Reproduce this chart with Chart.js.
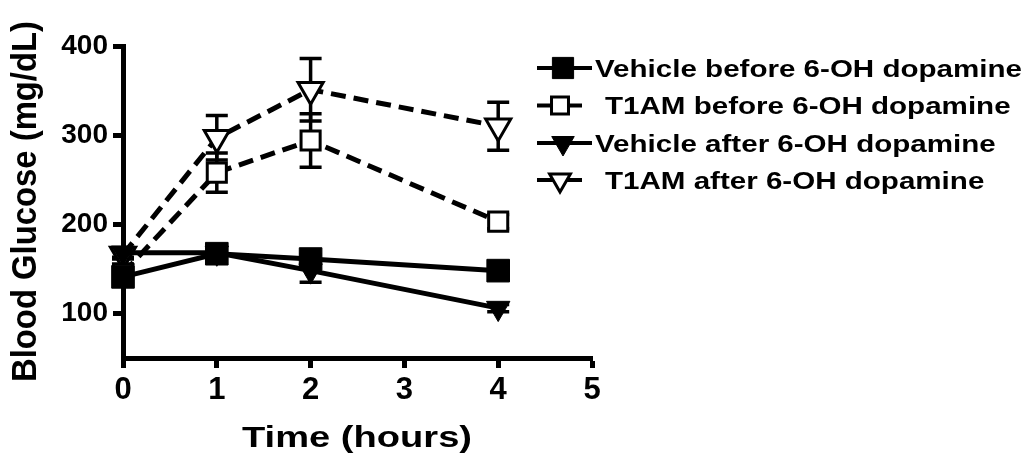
<!DOCTYPE html>
<html lang="en">
<head>
    <meta charset="UTF-8">
    <title>Blood Glucose</title>
    <style>
        body { margin: 0; background: #fff; }
        .chart-box { width: 1031px; height: 459px; position: relative; }
    </style>
</head>
<body>
    <div class="chart-box"><canvas id="glucoseChart"></canvas></div>

    <script src="https://cdn.jsdelivr.net/npm/chart.js"></script>
    <script>
        const timeHours = [0, 1, 2, 4];
        const yTicks = [100, 200, 300, 400];
        const seriesNames = ['Vehicle before 6-OH dopamine', 'T1AM before 6-OH dopamine', 'Vehicle after 6-OH dopamine', 'T1AM after 6-OH dopamine'];
        const vehicleBefore = [141, 167, 161, 148];
        const vehicleBeforeErr = [7, 6, 5, 5];
        const t1amBefore = [145, 258, 294, 203];
        const t1amBeforeErr = [6, 22, 30, 8];
        const vehicleAfter = [168, 168, 148, 106];
        const vehicleAfterErr = [5, 5, 13, 4];
        const t1amAfter = [166, 297, 351, 310];
        const t1amAfterErr = [5, 25, 35, 27];

        const FONT = "'Liberation Sans', Arial, sans-serif";

        const toPoints = vals => vals.map((v, i) => ({ x: timeHours[i], y: v }));

        // marker + line style per series (also used for legend)
        const styles = [
            { pointStyle: 'rect', radius: 16, rotation: 0, fill: '#000', dash: [], legendRadius: 15, lineEnd: 592, markX: 563 },
            { pointStyle: 'rect', radius: 13.5, rotation: 0, fill: '#fff', dash: [15, 8], legendRadius: 12, lineEnd: 582, markX: 560 },
            { pointStyle: 'triangle', radius: 13.5, rotation: 180, fill: '#000', dash: [], legendRadius: 13, lineEnd: 592, markX: 563 },
            { pointStyle: 'triangle', radius: 14.5, rotation: 180, fill: '#fff', dash: [15, 8], legendRadius: 12, lineEnd: 582, markX: 560 }
        ];
        const values = [vehicleBefore, t1amBefore, vehicleAfter, t1amAfter];
        const errors = [vehicleBeforeErr, t1amBeforeErr, vehicleAfterErr, t1amAfterErr];

        const datasets = values.map((vals, i) => ({
            label: seriesNames[i],
            data: toPoints(vals),
            errors: errors[i],
            borderColor: '#000',
            borderWidth: 5,
            borderDash: styles[i].dash,
            pointStyle: styles[i].pointStyle,
            pointRadius: styles[i].radius,
            pointRotation: styles[i].rotation,
            pointBackgroundColor: styles[i].fill,
            pointBorderColor: '#000',
            pointBorderWidth: styles[i].fill === '#fff' ? 3 : 1,
            pointHoverRadius: styles[i].radius,
            clip: false,
            tension: 0
        }));

        // error bars, drawn under the markers
        const errorBars = {
            id: 'errorBars',
            beforeDatasetsDraw(chart) {
                const { ctx, scales: { x, y } } = chart;
                ctx.save();
                ctx.strokeStyle = '#000';
                ctx.lineWidth = 3.5;
                ctx.setLineDash([]);
                chart.data.datasets.forEach(ds => {
                    ds.data.forEach((p, i) => {
                        const e = ds.errors[i];
                        const px = x.getPixelForValue(p.x);
                        const top = y.getPixelForValue(p.y + e);
                        const bot = y.getPixelForValue(p.y - e);
                        ctx.beginPath();
                        ctx.moveTo(px, top); ctx.lineTo(px, bot);
                        ctx.moveTo(px - 11, top); ctx.lineTo(px + 11, top);
                        ctx.moveTo(px - 11, bot); ctx.lineTo(px + 11, bot);
                        ctx.stroke();
                    });
                });
                ctx.restore();
            }
        };

        // fill text stretched to a target width
        const stretchedText = (ctx, text, x, y, width, thick) => {
            const w = ctx.measureText(text).width;
            ctx.save();
            ctx.translate(x, y);
            ctx.scale(width / w, thick);
            ctx.fillText(text, 0, 0);
            ctx.restore();
        };

        const legendAndTitles = {
            id: 'legendAndTitles',
            afterDraw(chart) {
                const ctx = chart.ctx;
                ctx.save();
                ctx.fillStyle = '#000';
                ctx.strokeStyle = '#000';

                // legend
                const rows = [68, 105.5, 143, 180];
                ctx.font = `bold 23px ${FONT}`;
                const stretch = 427 / ctx.measureText(seriesNames[0]).width;
                seriesNames.forEach((name, i) => {
                    const s = styles[i];
                    const yRow = rows[i];
                    ctx.lineWidth = 4;
                    ctx.setLineDash([]);
                    ctx.beginPath();
                    ctx.moveTo(537, yRow); ctx.lineTo(s.lineEnd, yRow);
                    ctx.stroke();
                    ctx.fillStyle = s.fill;
                    ctx.lineWidth = s.fill === '#fff' ? 3 : 1;
                    Chart.helpers.drawPoint(ctx, { pointStyle: s.pointStyle, radius: s.legendRadius, rotation: s.rotation, borderWidth: ctx.lineWidth }, s.markX, yRow);
                    ctx.fillStyle = '#000';
                    ctx.textAlign = 'left';
                    ctx.textBaseline = 'alphabetic';
                    const tx = s.fill === '#fff' ? 605 : 595;
                    ctx.save();
                    ctx.translate(tx, yRow + 8.5);
                    ctx.scale(stretch, 1);
                    ctx.fillText(name, 0, 0);
                    ctx.restore();
                });

                // x title
                ctx.font = `bold 30px ${FONT}`;
                ctx.textAlign = 'center';
                ctx.textBaseline = 'alphabetic';
                stretchedText(ctx, 'Time (hours)', 357, 447, 230, 1);

                // y title
                ctx.font = `bold 32px ${FONT}`;
                ctx.save();
                ctx.translate(36, 201.5);
                ctx.rotate(-Math.PI / 2);
                const w = ctx.measureText('Blood Glucose (mg/dL)').width;
                ctx.scale(361 / w, 1.12);
                ctx.fillText('Blood Glucose (mg/dL)', 0, 0);
                ctx.restore();

                ctx.restore();
            }
        };

        new Chart(document.getElementById('glucoseChart'), {
            type: 'line',
            data: { datasets },
            plugins: [errorBars, legendAndTitles],
            options: {
                responsive: true,
                maintainAspectRatio: false,
                animation: false,
                layout: { padding: { top: 46, right: 439, left: 0, bottom: 0 } },
                plugins: { legend: { display: false }, tooltip: { enabled: false } },
                scales: {
                    x: {
                        type: 'linear',
                        min: 0, max: 5,
                        ticks: { stepSize: 1, color: '#000', padding: 4, font: { family: FONT, size: 31, weight: 'bold' } },
                        grid: { drawOnChartArea: false, drawTicks: true, tickLength: 10, tickWidth: 5, tickColor: '#000' },
                        border: { display: true, color: '#000', width: 5 },
                        afterFit: s => { s.height = 101; }
                    },
                    y: {
                        type: 'linear',
                        min: 50, max: 400,
                        afterBuildTicks: s => { s.ticks = yTicks.map(v => ({ value: v })); },
                        ticks: { color: '#000', padding: 5, font: { family: FONT, size: 28, weight: 'bold' } },
                        grid: { drawOnChartArea: false, drawTicks: true, tickLength: 10, tickWidth: 5, tickColor: '#000' },
                        border: { display: true, color: '#000', width: 5 },
                        afterFit: s => { s.width = 123; }
                    }
                }
            }
        });
    </script>
</body>
</html>
